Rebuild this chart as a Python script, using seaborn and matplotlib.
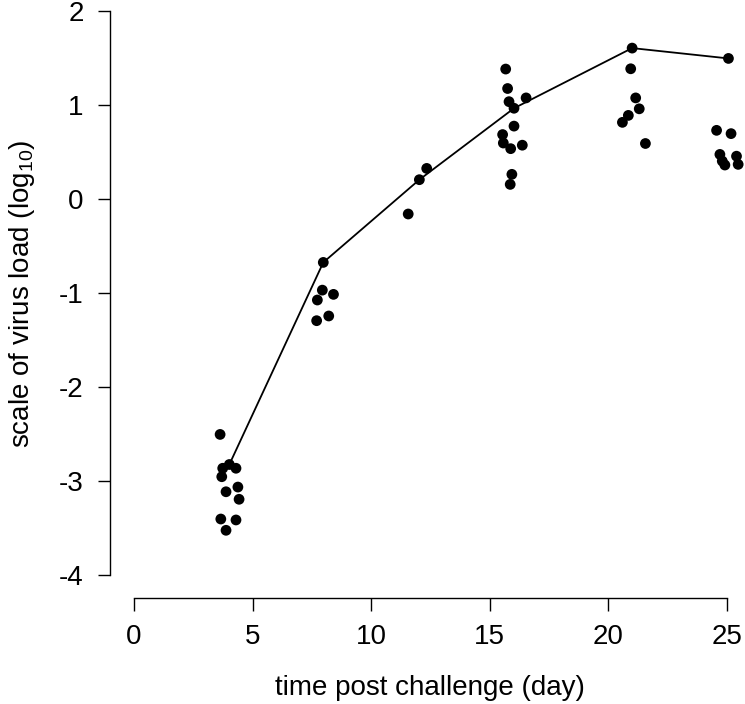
import numpy as np
import pandas as pd
import matplotlib
matplotlib.use("Agg")
import matplotlib.pyplot as plt
import seaborn as sns

# observed virus load (log10) per animal, by day after challenge
time_day = [
    3.63, 3.74, 4.02, 4.30, 3.70, 3.88, 4.38, 4.43, 3.66, 4.30, 3.88,
    7.98, 7.94, 8.41, 7.73, 7.70, 8.21,
    12.34, 12.03, 11.56,
    15.67, 15.75, 15.81, 16.53, 16.02, 16.02, 15.54, 15.57, 15.88, 16.37, 15.93, 15.86,
    21.00, 20.94, 21.15, 21.30, 20.84, 20.59, 21.56,
    25.06, 24.56, 25.17, 24.70, 24.80, 24.91, 25.40, 25.47,
]
virus_load = [
    -2.50, -2.86, -2.82, -2.86, -2.95, -3.11, -3.06, -3.19, -3.40, -3.41, -3.52,
    -0.67, -0.965, -1.01, -1.07, -1.29, -1.24,
    0.33, 0.21, -0.155,
    1.387, 1.18, 1.04, 1.08, 0.97, 0.78, 0.69, 0.60, 0.54, 0.577, 0.267, 0.16,
    1.61, 1.39, 1.08, 0.964, 0.894, 0.82, 0.595,
    1.50, 0.735, 0.70, 0.479, 0.408, 0.366, 0.46, 0.373,
]

# connecting line
line_day = [4.02, 7.98, 12.03, 16.02, 21.00, 25.06]
line_load = [-2.82, -0.67, 0.21, 0.97, 1.61, 1.50]

x_ticks = [0, 5, 10, 15, 20, 25]
y_ticks = [-4, -3, -2, -1, 0, 1, 2]


def main():
    sns.set_style("ticks")
    plt.rcParams['font.family'] = ['Liberation Sans', 'DejaVu Sans']
    plt.rcParams['axes.unicode_minus'] = False
    plt.rcParams['text.color'] = 'black'
    plt.rcParams['axes.labelcolor'] = 'black'
    plt.rcParams['mathtext.fontset'] = 'custom'
    plt.rcParams['mathtext.rm'] = 'Liberation Sans'
    plt.rcParams['mathtext.it'] = 'Liberation Sans'

    df = pd.DataFrame({'day': time_day, 'load': virus_load})
    line_df = pd.DataFrame({'day': line_day, 'load': line_load})

    fig = plt.figure(figsize=(7.45, 7.04), dpi=100)
    ax = fig.add_axes([0.1477, 0.1506, 0.86, 0.8652])

    sns.lineplot(data=line_df, x='day', y='load', sort=False, color='black',
                 linewidth=1.3, ax=ax)
    sns.scatterplot(data=df, x='day', y='load', color='black', s=60,
                    edgecolor='none', ax=ax, clip_on=False, zorder=3)

    ax.set_xlim(-1.01, 26.0)
    ax.set_ylim(-4.24, 2.24)
    ax.set_xticks(x_ticks)
    ax.set_yticks(y_ticks)
    ax.set_yticklabels([str(v) for v in y_ticks])

    for side in ['top', 'right']:
        ax.spines[side].set_visible(False)
    ax.spines['left'].set_bounds(-4, 2)
    ax.spines['bottom'].set_bounds(0, 25)
    for side in ['left', 'bottom']:
        ax.spines[side].set_linewidth(1.0)
        ax.spines[side].set_color('black')

    ax.tick_params(axis='both', direction='out', length=9, width=1.0,
                   colors='black', labelsize=20)
    ax.tick_params(axis='y', pad=10)
    ax.tick_params(axis='x', pad=10)

    ax.set_xlabel('time post challenge (day)', fontsize=20, labelpad=18)
    ax.set_ylabel('scale of virus load (log$_{10}$)', fontsize=20, labelpad=16)

    fig.savefig('out.png', dpi=100)


if __name__ == '__main__':
    main()
